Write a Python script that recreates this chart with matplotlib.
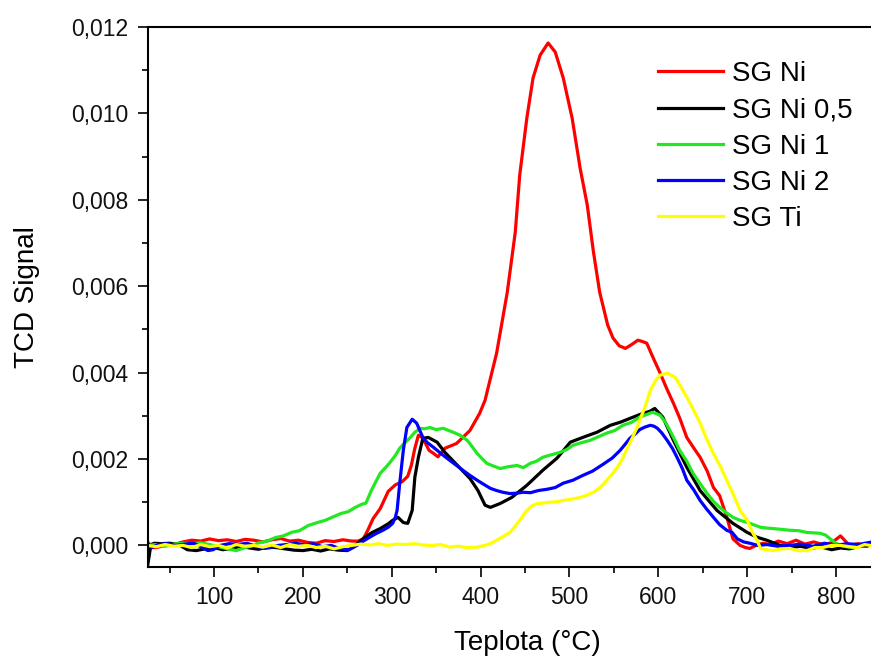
import numpy as np
import matplotlib
matplotlib.use('Agg')
import matplotlib.pyplot as plt
from matplotlib.ticker import MultipleLocator, FuncFormatter

plt.rcParams['font.family'] = ['Liberation Sans', 'DejaVu Sans']

# (teplota degC, TCD signal x 1e-3)
sg_ni = [(25, -0.05), (35, -0.05), (45, 0.0), (55, 0.02), (65, 0.08), (75, 0.12), (85, 0.10), (95, 0.15),
         (105, 0.11), (115, 0.13), (125, 0.09), (135, 0.14), (145, 0.12), (155, 0.08), (165, 0.13), (175, 0.16),
         (185, 0.10), (195, 0.12), (205, 0.07), (215, 0.05), (225, 0.11), (235, 0.09), (245, 0.13), (255, 0.10),
         (262, 0.10), (268, 0.15), (273, 0.35), (279, 0.62), (287, 0.85), (296, 1.25), (304, 1.40), (312, 1.48),
         (318, 1.60), (322, 1.85), (326, 2.25), (330, 2.55), (334, 2.50), (338, 2.36), (342, 2.20), (347, 2.13),
         (352, 2.05), (360, 2.25), (373, 2.36), (388, 2.66), (399, 3.06), (405, 3.36), (418, 4.45), (430, 5.86),
         (439, 7.25), (444, 8.57), (452, 9.89), (459, 10.82), (467, 11.35), (476, 11.63), (484, 11.42),
         (493, 10.82), (503, 9.89), (512, 8.73), (520, 7.88), (527, 6.79), (534, 5.86), (543, 5.10), (549, 4.80),
         (556, 4.62), (563, 4.56), (570, 4.65), (577, 4.75), (582, 4.72), (587, 4.68), (594, 4.35), (602, 3.99),
         (609, 3.65), (617, 3.29), (624, 2.95), (632, 2.50), (640, 2.25), (647, 2.04), (655, 1.72), (662, 1.34),
         (669, 1.15), (677, 0.66), (684, 0.15), (692, 0.0), (698, -0.05), (703, -0.07), (710, 0.0), (718, 0.05),
         (726, 0.02), (735, 0.10), (745, 0.04), (755, 0.12), (765, 0.03), (775, 0.08), (785, 0.02), (795, 0.06),
         (805, 0.22), (815, 0.0), (825, 0.04), (835, -0.02), (840, 0.05)]

sg_ni_05 = [(25, -0.50), (27, -0.25), (29, 0.02), (33, 0.05), (40, 0.04), (50, 0.05), (60, 0.02), (70, -0.10),
            (80, -0.12), (90, -0.08), (100, -0.05), (110, -0.10), (120, -0.07), (130, -0.02), (140, -0.06),
            (150, -0.09), (160, -0.04), (170, -0.05), (180, -0.08), (190, -0.11), (200, -0.12), (210, -0.09),
            (220, -0.13), (230, -0.08), (240, -0.11), (250, -0.12), (258, -0.02), (268, 0.16), (278, 0.30),
            (287, 0.39), (296, 0.50), (301, 0.58), (307, 0.65), (313, 0.53), (318, 0.51), (323, 0.81), (326, 1.58),
            (330, 2.04), (335, 2.48), (341, 2.50), (351, 2.39), (360, 2.15), (374, 1.85), (388, 1.55), (397, 1.27),
            (405, 0.93), (411, 0.88), (422, 0.97), (435, 1.11), (452, 1.39), (470, 1.74), (486, 2.02), (501, 2.39),
            (515, 2.50), (531, 2.62), (546, 2.78), (557, 2.85), (568, 2.94), (583, 3.06), (590, 3.10), (596, 3.17),
            (605, 2.97), (617, 2.43), (632, 1.81), (647, 1.27), (666, 0.81), (684, 0.51), (700, 0.30), (711, 0.19),
            (722, 0.12), (737, 0.0), (750, -0.05), (760, -0.02), (772, -0.07), (782, -0.03), (795, -0.10),
            (805, -0.06), (815, -0.08), (825, -0.03), (838, 0.0)]

sg_ni_1 = [(25, 0.0), (35, 0.02), (45, -0.02), (55, 0.03), (65, 0.05), (75, 0.04), (85, 0.06), (95, 0.02),
           (105, -0.03), (115, -0.08), (125, -0.12), (135, -0.05), (145, 0.0), (150, 0.06), (160, 0.10),
           (169, 0.18), (178, 0.22), (187, 0.30), (196, 0.34), (206, 0.46), (215, 0.52), (225, 0.58), (234, 0.66),
           (243, 0.74), (251, 0.78), (259, 0.88), (266, 0.95), (271, 0.98), (277, 1.27), (282, 1.47), (287, 1.67),
           (293, 1.80), (298, 1.92), (304, 2.08), (309, 2.25), (315, 2.38), (321, 2.50), (326, 2.62), (332, 2.71),
           (337, 2.70), (343, 2.73), (350, 2.68), (358, 2.71), (364, 2.66), (369, 2.62), (377, 2.55), (385, 2.43),
           (390, 2.30), (396, 2.13), (402, 2.00), (407, 1.90), (414, 1.84), (422, 1.78), (431, 1.82), (441, 1.85),
           (448, 1.80), (456, 1.90), (463, 1.95), (470, 2.04), (480, 2.10), (489, 2.15), (497, 2.22), (504, 2.32),
           (514, 2.38), (523, 2.43), (533, 2.52), (542, 2.60), (551, 2.66), (560, 2.78), (570, 2.85), (579, 2.97),
           (587, 3.03), (593, 3.08), (598, 3.05), (602, 3.01), (608, 2.85), (613, 2.66), (619, 2.42), (624, 2.20),
           (632, 1.95), (639, 1.67), (647, 1.43), (655, 1.20), (662, 1.02), (669, 0.88), (677, 0.75), (684, 0.65),
           (692, 0.58), (700, 0.53), (707, 0.48), (715, 0.42), (722, 0.40), (729, 0.39), (739, 0.37), (748, 0.35),
           (758, 0.34), (767, 0.30), (775, 0.29), (782, 0.28), (788, 0.24), (793, 0.16), (799, 0.06), (805, 0.0),
           (812, -0.03), (819, -0.05), (828, 0.0), (838, 0.05)]

sg_ni_2 = [(25, 0.10), (27, 0.0), (30, -0.05), (37, 0.02), (47, 0.04), (57, 0.0), (67, 0.03), (77, 0.05),
           (87, -0.05), (93, -0.12), (99, -0.10), (107, 0.0), (117, 0.04), (127, 0.02), (137, 0.05), (147, -0.02),
           (157, -0.07), (164, -0.05), (172, 0.0), (182, 0.02), (192, 0.05), (202, 0.01), (212, 0.04), (222, -0.03),
           (232, 0.0), (242, -0.08), (252, -0.10), (261, 0.0), (268, 0.10), (276, 0.20), (283, 0.28), (290, 0.35),
           (296, 0.42), (301, 0.51), (304, 0.65), (306, 0.81), (309, 1.44), (313, 2.20), (317, 2.73), (323, 2.92),
           (328, 2.83), (335, 2.50), (340, 2.38), (347, 2.27), (354, 2.15), (362, 2.02), (371, 1.88), (380, 1.74),
           (388, 1.62), (396, 1.51), (403, 1.42), (411, 1.32), (418, 1.27), (425, 1.23), (433, 1.20), (441, 1.21),
           (448, 1.23), (456, 1.22), (465, 1.27), (475, 1.30), (484, 1.34), (493, 1.44), (504, 1.51), (515, 1.62),
           (526, 1.72), (538, 1.88), (548, 2.02), (557, 2.20), (563, 2.35), (568, 2.48), (574, 2.58), (579, 2.68),
           (585, 2.74), (591, 2.78), (595, 2.76), (599, 2.71), (604, 2.60), (610, 2.43), (616, 2.24), (621, 2.04),
           (627, 1.78), (632, 1.51), (640, 1.28), (647, 1.04), (654, 0.85), (662, 0.65), (669, 0.48), (677, 0.35),
           (683, 0.30), (689, 0.15), (696, 0.08), (703, 0.05), (712, 0.0), (722, 0.02), (735, -0.02), (748, 0.0),
           (760, 0.03), (774, -0.02), (787, 0.05), (800, 0.0), (812, 0.04), (825, 0.02), (838, 0.07)]

sg_ti = [(25, 0.0), (35, -0.03), (45, 0.02), (55, -0.02), (65, 0.0), (75, -0.05), (85, 0.02), (95, -0.03),
         (105, 0.0), (115, -0.06), (125, 0.02), (135, -0.02), (145, 0.0), (155, -0.04), (165, 0.01), (175, -0.05),
         (185, 0.02), (195, -0.02), (205, 0.0), (215, -0.05), (225, -0.02), (235, -0.08), (245, -0.03), (255, 0.0),
         (265, 0.03), (275, 0.01), (285, 0.04), (295, 0.0), (305, 0.03), (315, 0.02), (325, 0.04), (335, 0.01),
         (345, 0.0), (355, 0.02), (365, -0.04), (375, -0.02), (385, -0.05), (396, -0.04), (405, 0.0), (412, 0.05),
         (418, 0.12), (425, 0.20), (433, 0.30), (438, 0.42), (444, 0.58), (452, 0.81), (458, 0.92), (464, 0.97),
         (471, 0.98), (478, 1.00), (485, 1.01), (493, 1.04), (502, 1.07), (512, 1.11), (519, 1.16), (527, 1.23),
         (535, 1.35), (542, 1.51), (548, 1.65), (554, 1.81), (560, 2.02), (565, 2.25), (571, 2.50), (576, 2.73),
         (581, 3.00), (585, 3.20), (591, 3.59), (597, 3.82), (602, 3.94), (610, 3.99), (619, 3.89), (625, 3.68),
         (632, 3.43), (640, 3.12), (647, 2.83), (654, 2.48), (662, 2.13), (670, 1.82), (677, 1.51), (685, 1.15),
         (692, 0.81), (700, 0.58), (706, 0.30), (711, 0.12), (715, -0.07), (722, -0.10), (729, -0.12), (738, -0.08),
         (748, -0.07), (757, -0.12), (767, -0.12), (776, -0.05), (785, -0.05), (795, 0.0), (805, 0.0), (815, -0.03),
         (824, -0.05), (832, 0.02), (838, 0.0)]

series = [('SG Ni', sg_ni, '#ff0000'),
          ('SG Ni 0,5', sg_ni_05, '#000000'),
          ('SG Ni 1', sg_ni_1, '#22e822'),
          ('SG Ni 2', sg_ni_2, '#0000ff'),
          ('SG Ti', sg_ti, '#ffff00')]

fig = plt.figure(figsize=(8.71, 6.56), dpi=100)
ax = fig.add_axes([148/871, 89/656, 758/871, 540/656])

for name, data, col in series:
    xy = np.array(data)
    ax.plot(xy[:, 0], xy[:, 1]*1e-3, color=col, lw=2.3, label=name)

ax.set_xlim(25.7, 878.7)
ax.set_ylim(-0.0005, 0.012)

ax.xaxis.set_major_locator(MultipleLocator(100))
ax.xaxis.set_minor_locator(MultipleLocator(50))
ax.yaxis.set_major_locator(MultipleLocator(0.002))
ax.yaxis.set_minor_locator(MultipleLocator(0.001))
ax.yaxis.set_major_formatter(FuncFormatter(lambda v, p: f'{v:.3f}'.replace('.', ',').replace('-0,000', '0,000')))

for s in ax.spines.values():
    s.set_linewidth(1.5)
ax.spines['right'].set_visible(False)
ax.tick_params(which='major', length=7, width=1.2, labelsize=16.5, pad=7, color='black', labelcolor='#111111')
ax.tick_params(which='minor', length=4, width=1.2)

ax.set_xlabel('Teplota (°C)', fontsize=20)
ax.set_ylabel('TCD Signal', fontsize=20)
ax.xaxis.set_label_coords(0.5, -0.117)
ax.yaxis.set_label_coords(-0.142, 0.5)

ax.legend(loc='upper left', bbox_to_anchor=(658/871, 1 - 61/656), bbox_transform=fig.transFigure,
          frameon=False, fontsize=20, handlelength=2.35, handletextpad=0.32, labelspacing=0.37,
          borderpad=0, borderaxespad=0)

plt.savefig('out.png', dpi=100)
